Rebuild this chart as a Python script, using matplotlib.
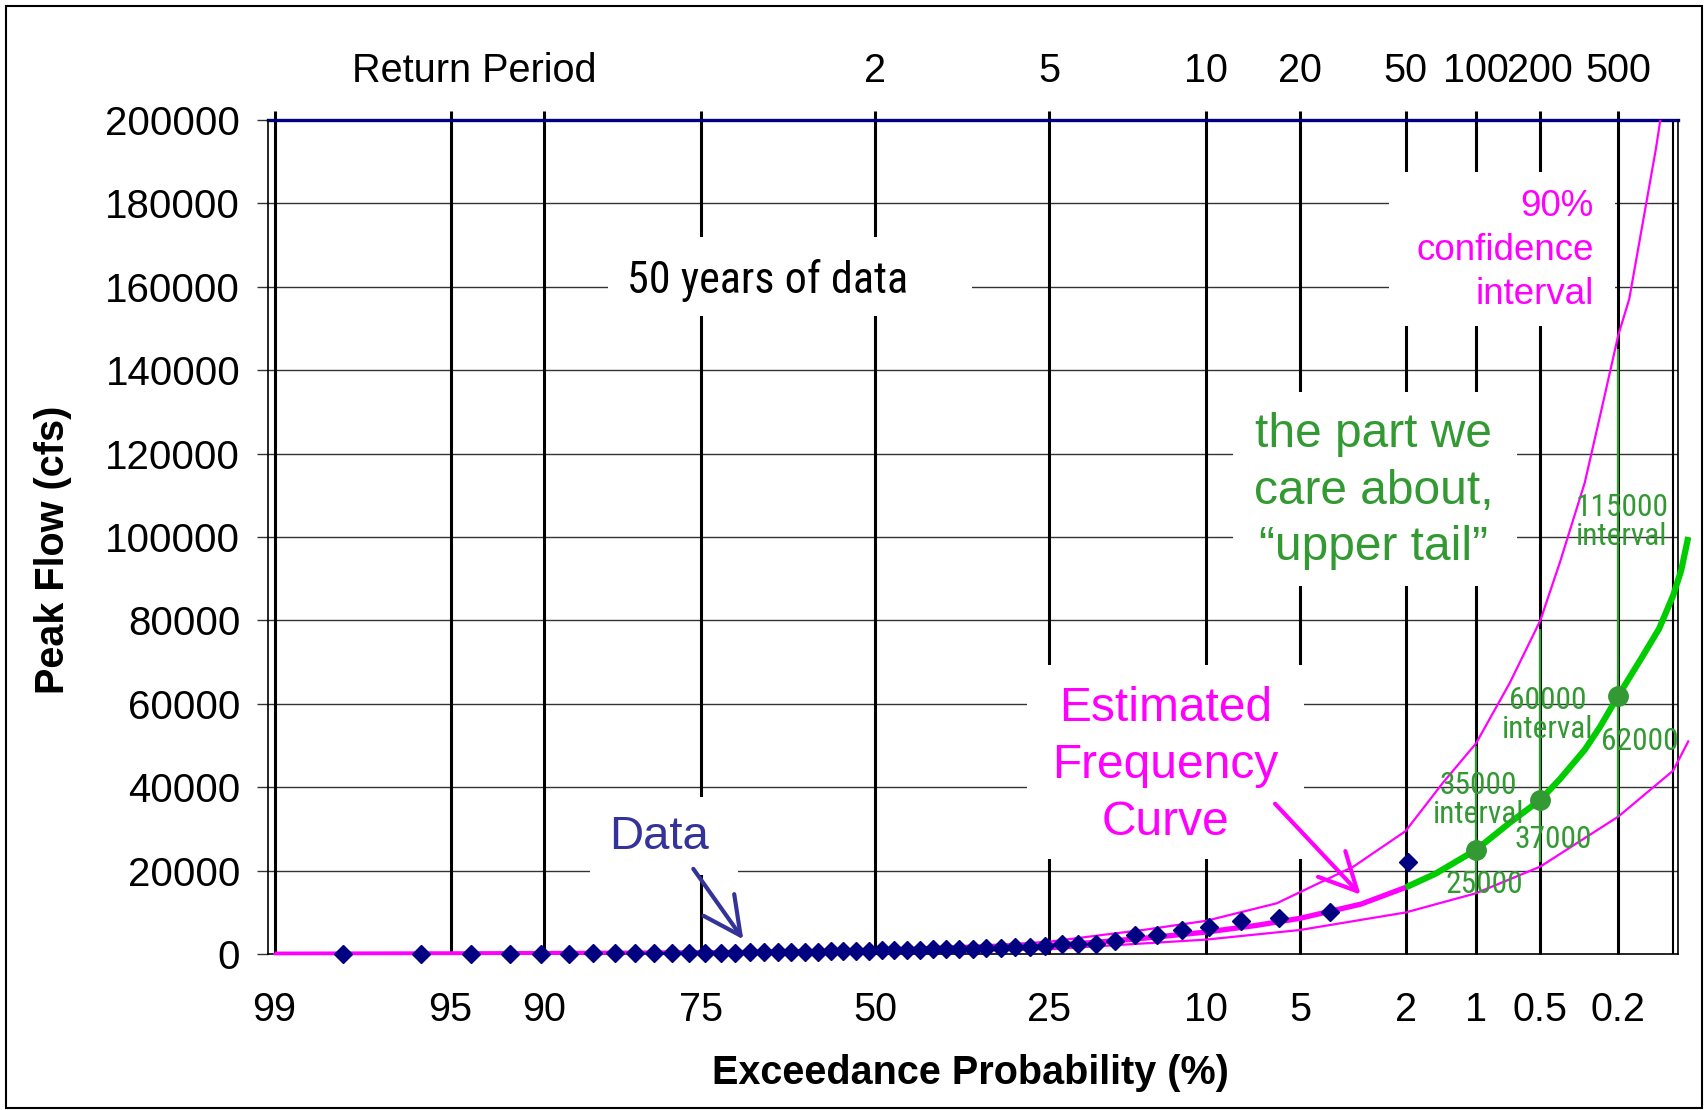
from statistics import NormalDist
import numpy as np
import matplotlib.pyplot as plt
from matplotlib import font_manager as fm
from matplotlib.patches import Rectangle

plt.rcParams['font.family'] = ['Liberation Sans', 'DejaVu Sans']

MAGENTA = '#ff00ff'
GREEN_TXT = '#339933'
GREEN_LINE = '#00cc00'
NAVY = '#000080'

# annual peak flows, largest first (cfs)
peak_flows = [22000, 10000, 8600, 7900, 6500, 5900, 4600, 4600, 3200, 2500,
              2500, 2400, 1900, 1800, 1700, 1500, 1400, 1300, 1300, 1200,
              1200, 1100, 1000, 900, 900, 800, 750, 700, 650, 600,
              600, 550, 500, 500, 450, 400, 400, 350, 350, 300,
              300, 250, 200, 200, 150, 100, 100, 50, 30, 10]

# estimated frequency curve (exceedance %, cfs)
fit_prob = [99, 95, 90, 80, 75, 70, 60, 50, 40, 30, 25, 20, 15, 10, 7, 5, 3, 2]
fit_flow = [0, 80, 150, 280, 350, 420, 600, 800, 1100, 1600, 2100, 2800, 3800,
            5300, 6900, 8600, 12000, 16000]

# upper tail of the curve
tail_prob = [2, 1.5, 1, 0.7, 0.5, 0.4, 0.3, 0.25, 0.2, 0.15, 0.12, 0.1,
             0.09, 0.082]
tail_flow = [16000, 19300, 25000, 31500, 37000, 42000, 49000, 54500, 62000,
             71000, 78000, 86000, 92000, 100000]

# 90% confidence limits
upper_prob = [99, 95, 90, 75, 50, 30, 25, 19, 15, 10, 6, 3.2, 2, 1.4, 1, 0.7,
              0.5, 0.4, 0.3, 0.25, 0.2, 0.175, 0.125, 0.118]
upper_flow = [10, 120, 220, 500, 1200, 2400, 3000, 4600, 5800, 8000, 12200,
              21000, 29500, 41000, 50500, 65000, 80000, 94000, 113000, 129000,
              148500, 157000, 193000, 200000]
lower_prob = [99, 95, 90, 75, 50, 25, 10, 5, 2, 1, 0.5, 0.2, 0.1, 0.082]
lower_flow = [0, 40, 80, 180, 450, 1200, 3500, 5800, 10000, 14600, 21000,
              33000, 44000, 51000]

# design points with their interval bars
design_prob = [1, 0.5, 0.2]
design_flow = [25000, 37000, 62000]
design_low = [14700, 22000, 33000]
design_high = [50000, 78000, 145000]

prob_ticks = [99, 95, 90, 75, 50, 25, 10, 5, 2, 1, 0.5, 0.2]
prob_labels = ['99', '95', '90', '75', '50', '25', '10', '5', '2', '1', '0.5', '0.2']
rp_prob = [50, 25, 10, 5, 2, 1, 0.5, 0.2]
rp_labels = ['2', '5', '10', '20', '50', '100', '200', '500']

nd = NormalDist()


def zpos(p):
    # exceedance percent -> standard normal deviate
    return np.array([nd.inv_cdf(1 - v / 100.0) for v in np.atleast_1d(p)])


def narrow_font():
    # look for a condensed sans face; fall back to the regular one
    prefer = ['Liberation Sans Narrow', 'Arial Narrow', 'Roboto Condensed',
              'Noto Sans Condensed', 'DejaVu Sans Condensed']
    cands = [f for f in fm.fontManager.ttflist
             if f.style == 'normal' and f.weight in (400, 'normal', 'regular')
             and (f.stretch in ('condensed', 'semi-condensed')
                  or 'Narrow' in f.name or 'Condensed' in f.name)]
    for want in prefer:
        for f in cands:
            if f.name == want:
                return f.fname
    for f in cands:
        if 'Sans' in f.name and 'Mono' not in f.name and 'CJK' not in f.name:
            return f.fname
    return None


narrow_file = narrow_font()


def narrow_props():
    if narrow_file:
        return dict(fontproperties=fm.FontProperties(fname=narrow_file))
    return dict(family=['Liberation Sans', 'DejaVu Sans'])


n = len(peak_flows)
data_prob = [100.0 * (i + 1) / (n + 1) for i in range(n)]

fig = plt.figure(figsize=(17.08, 11.10), dpi=100)
ax = fig.add_axes([268 / 1708, 1 - 954.2 / 1110, 1410 / 1708, 834.4 / 1110])
ax.set_xlim(-2.352, 3.109)
ax.set_ylim(0, 200000)

# grid
ax.set_yticks(np.arange(0, 200001, 20000))
for yv in np.arange(20000, 200000, 20000):
    ax.axhline(yv, color='#333333', lw=1.0, zorder=1)
ax.vlines(zpos(prob_ticks), 0, 202200, color='black', lw=2.2, zorder=1,
          clip_on=False)
ax.vlines(zpos([0.1]), 0, 200000, color='black', lw=1.5, zorder=1)
ax.axhline(200000, color=NAVY, lw=2.4, zorder=2, clip_on=False)

# white label boxes (z0, z1, q0, q1)
boxes = [(-1.036, 0.373, 153000, 171800),
         (-1.105, -0.532, 19000, 37700),
         (0.588, 1.661, 22800, 69300),
         (1.385, 2.485, 88300, 134800),
         (1.989, 2.865, 150600, 187500)]
for z0, z1, q0, q1 in boxes:
    ax.add_patch(Rectangle((z0, q0), z1 - z0, q1 - q0, facecolor='white',
                           edgecolor='none', zorder=2))

# curves
ax.plot(zpos(upper_prob), upper_flow, color=MAGENTA, lw=1.6, zorder=3)
ax.plot(zpos(lower_prob), lower_flow, color=MAGENTA, lw=1.6, zorder=3,
        clip_on=False)
ax.plot(zpos(fit_prob), fit_flow, color=MAGENTA, lw=3.8, zorder=3,
        solid_capstyle='butt')
ax.vlines(zpos(design_prob), design_low, design_high, color=GREEN_TXT,
          lw=1.6, zorder=3)
ax.plot(zpos(tail_prob), tail_flow, color=GREEN_LINE, lw=4.5, zorder=4,
        clip_on=False, solid_capstyle='butt')
ax.plot(zpos(design_prob), design_flow, 'o', color=GREEN_TXT, ms=14, zorder=5)
ax.plot(zpos(data_prob), peak_flows, 'D', color=NAVY, ms=9.5, zorder=6,
        clip_on=False)

# axes styling
ax.spines['top'].set_visible(False)
for s in ['left', 'right', 'bottom']:
    ax.spines[s].set_color('black')
    ax.spines[s].set_linewidth(1.2)
ax.set_xticks(zpos(prob_ticks))
ax.set_xticklabels(prob_labels, fontsize=28.5)
ax.tick_params(axis='x', length=0, pad=26.5)
ax.tick_params(axis='y', length=8, width=1.0, color='#333333', pad=12,
               labelsize=29)

# top return period scale
tr = ax.get_xaxis_transform()
ax.text(-1.554, 1.058, 'Return Period', transform=tr, ha='center',
        va='center', fontsize=28.5)
for p, lab in zip(rp_prob, rp_labels):
    ax.text(zpos([p])[0], 1.058, lab, transform=tr, ha='center',
            va='center', fontsize=28.5)

fig.text(53 / 1708, 1 - 550 / 1110, 'Peak Flow (cfs)', rotation=90,
         ha='center', va='center', fontsize=28.5, fontweight='bold')
fig.text(970 / 1708, 1 - 1073 / 1110, 'Exceedance Probability (%)',
         ha='center', va='center', fontsize=28.5, fontweight='bold')

# annotations
years = ax.text(-0.416, 161600, '50 years of data', fontsize=35,
                ha='center', va='center', zorder=7, **narrow_props())
ax.text(-0.838, 28200, 'Data', color='#333399', fontsize=34,
        ha='center', va='center', zorder=7)
ax.annotate('', xy=(-0.505, 3000), xytext=(-0.711, 21000),
            arrowprops=dict(arrowstyle='->,head_length=0.9,head_width=0.45',
                            color='#333399', lw=3, mutation_scale=30),
            zorder=7)
ax.text(1.124, 45160, 'Estimated\nFrequency\nCurve', color=MAGENTA,
        fontsize=34.5, ha='center', va='center', linespacing=1.34, zorder=7)
ax.annotate('', xy=(1.887, 13780), xytext=(1.541, 36550),
            arrowprops=dict(arrowstyle='->,head_length=0.9,head_width=0.45',
                            color=MAGENTA, lw=3, mutation_scale=30),
            zorder=7)
ax.text(1.930, 110950, 'the part we\ncare about,\n\u201cupper tail\u201d',
        color=GREEN_TXT, fontsize=34.5, ha='center', va='center',
        linespacing=1.33, zorder=7)
ax.text(2.782, 168670, '90%\nconfidence\ninterval', color=MAGENTA,
        fontsize=26.5, ha='right', va='center', multialignment='right',
        linespacing=1.33, zorder=7)

small = []
for zx, q, s in [(2.892, 103500, '115000\ninterval'),
                 (2.604, 57350, '60000\ninterval'),
                 (2.335, 37000, '35000\ninterval'),
                 (2.962, 50900, '62000'),
                 (2.626, 27400, '37000'),
                 (2.357, 16600, '25000')]:
    small.append(ax.text(zx, q, s, fontsize=22, color=GREEN_TXT, ha='center',
                         va='center', linespacing=1.0, zorder=7,
                         **narrow_props()))

# fit the narrow-font labels to the widths seen in the original
renderer = fig.canvas.get_renderer()
w = years.get_window_extent(renderer).width
years.set_fontsize(35 * 281.0 / w)
w = small[0].get_window_extent(renderer).width
for t in small:
    t.set_fontsize(22 * 93.0 / w)

# outer frame
fig.patches.append(Rectangle((6 / 1708, 0.002), 1696 / 1708, 1 - 6 / 1110 - 0.002,
                             transform=fig.transFigure, fill=False,
                             edgecolor='black', lw=1.5))

fig.savefig('out.png', dpi=100)
